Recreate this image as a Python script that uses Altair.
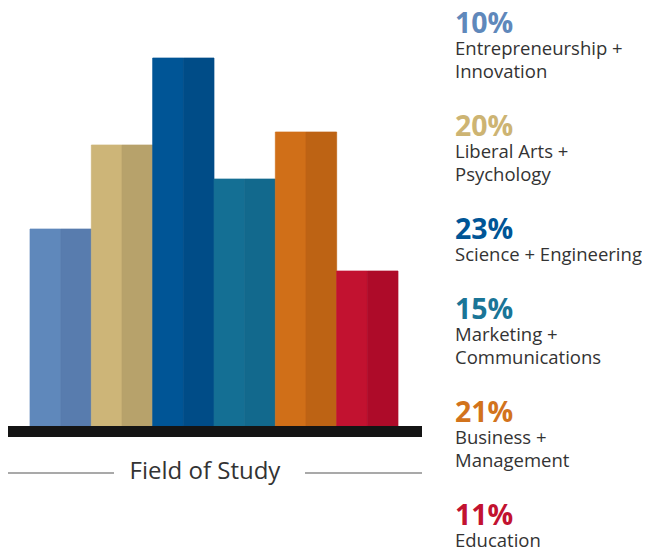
import altair as alt
import pandas as pd

# ---- data ----
categories = ["Entrepreneurship + Innovation", "Liberal Arts + Psychology",
              "Science + Engineering", "Marketing + Communications",
              "Business + Management", "Education"]
percent_labels = ["10%", "20%", "23%", "15%", "21%", "11%"]
label_lines = [["Entrepreneurship +", "Innovation"],
               ["Liberal Arts +", "Psychology"],
               ["Science + Engineering"],
               ["Marketing +", "Communications"],
               ["Business +", "Management"],
               ["Education"]]
# bar heights as drawn (decorative, not proportional to the percentages)
bar_heights = [197, 281, 368, 247, 294, 155]
light_colors = ["#5F88BB", "#CDB578", "#005596", "#146F94", "#D06F18", "#C21230"]
dark_colors = ["#587CAE", "#B7A26B", "#004C87", "#12698D", "#BD6314", "#AE0B29"]
pct_colors = ["#5F88BB", "#CDB473", "#005596", "#1A7597", "#D2731C", "#C21230"]

FONT = "Open Sans"
W, H = 634, 544
BASE = 418

# ---- bars table ----
rows = []
keys, cols = [], []
for i, c in enumerate(categories):
    for half, colr in (("a", light_colors[i]), ("b", dark_colors[i])):
        k = f"{i}{half}"
        rows.append({"cat": c, "half": half, "h": bar_heights[i], "key": k})
        keys.append(k)
        cols.append(colr)
bars_df = pd.DataFrame(rows)

bar_scale = alt.Scale(domain=keys, range=cols)
bars = alt.Chart(bars_df).mark_bar(strokeWidth=0.7).encode(
    x=alt.X("cat:N", sort=categories, axis=None,
            scale=alt.Scale(range=[22, 390], paddingInner=0, paddingOuter=0)),
    xOffset=alt.XOffset("half:N", scale=alt.Scale(paddingInner=0, paddingOuter=0)),
    y=alt.Y("h:Q", axis=None, scale=alt.Scale(domain=[0, BASE], range=[BASE, 0])),
    y2=alt.datum(0),
    color=alt.Color("key:N", scale=bar_scale, legend=None),
    stroke=alt.Stroke("key:N", scale=bar_scale, legend=None),
)

one = pd.DataFrame({"o": [0]})
baseline = alt.Chart(one).mark_rect(color="#141414").encode(
    x=alt.value(0), x2=alt.value(414), y=alt.value(BASE), y2=alt.value(BASE + 11))

title = alt.Chart(one).mark_text(text="Field of Study", font=FONT, fontSize=24,
                                 color="#333333", align="center", baseline="middle").encode(
    x=alt.value(197), y=alt.value(464))
line_l = alt.Chart(one).mark_rule(color="#555555", strokeWidth=1.2).encode(
    x=alt.value(0), x2=alt.value(106), y=alt.value(465))
line_r = alt.Chart(one).mark_rule(color="#555555", strokeWidth=1.2).encode(
    x=alt.value(297), x2=alt.value(414), y=alt.value(465))

# ---- legend texts (positions computed from line counts) ----
pct_rows, lab_rows = [], []
y = 25
for i in range(len(categories)):
    pct_rows.append({"t": percent_labels[i], "y": y, "c": pct_colors[i]})
    ly = y + 22
    for j, ln in enumerate(label_lines[i]):
        lab_rows.append({"t": ln, "y": ly})
        last = ly
        ly += 23
    y = last + 58
pct_df = pd.DataFrame(pct_rows)
lab_df = pd.DataFrame(lab_rows)

pct_text = alt.Chart(pct_df).mark_text(font=FONT, fontSize=28.5, fontWeight="bold",
                                       align="left", baseline="alphabetic").encode(
    x=alt.value(447), y=alt.Y("y:Q", scale=None, axis=None), text="t:N",
    color=alt.Color("c:N", scale=None))
lab_text = alt.Chart(lab_df).mark_text(font=FONT, fontSize=18.5, color="#333333",
                                       align="left", baseline="alphabetic").encode(
    x=alt.value(447), y=alt.Y("y:Q", scale=None, axis=None), text="t:N")

chart = alt.layer(bars, baseline, line_l, line_r, title, pct_text, lab_text).resolve_scale(
    y="independent", color="independent"
).properties(width=W, height=H, padding=0, autosize="none").configure_view(stroke=None)

chart.save("out.html", embed_options={"renderer": "svg", "actions": False})
